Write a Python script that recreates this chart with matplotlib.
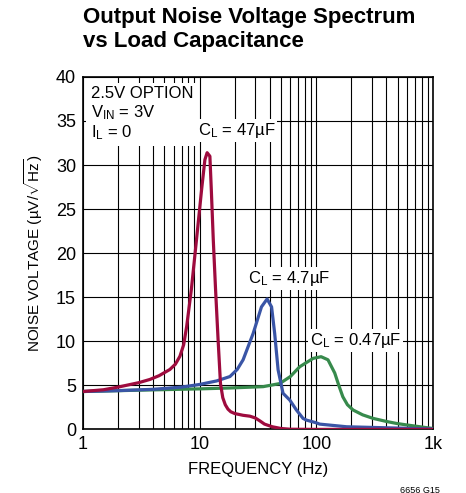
import matplotlib
matplotlib.use('Agg')
import matplotlib.pyplot as plt
from matplotlib.ticker import FixedLocator, NullFormatter

plt.rcParams['font.family'] = ['Liberation Sans', 'DejaVu Sans']
plt.rcParams['mathtext.fontset'] = 'custom'
plt.rcParams['mathtext.rm'] = 'Liberation Sans'
plt.rcParams['mathtext.it'] = 'Liberation Sans'

# Curves (frequency in Hz, noise in uV/rtHz)
f_47u = [1, 1.5, 2, 3, 3.75, 4.5, 5.56, 6.2, 6.78, 7.3, 7.75, 8.5, 9.4, 10.4,
         11.1, 11.6, 12.25, 12.6, 13.1, 13.7, 14.4, 15.1, 15.8, 16.6, 17.5,
         18.5, 20, 23.6, 27, 30, 33, 36, 42, 50, 60, 100, 1000]
v_47u = [4.3, 4.5, 4.8, 5.3, 5.67, 6.1, 6.8, 7.4, 8.3, 9.6, 11.7, 15.9, 21.5,
         27.2, 30.6, 31.4, 31.0, 27.2, 21.5, 15.9, 10.2, 5.2, 3.6, 2.8, 2.3,
         2.0, 1.8, 1.6, 1.5, 1.3, 0.95, 0.6, 0.3, 0.1, 0.02, 0.0, 0.0]

f_4u7 = [1, 2, 4, 7, 10, 14, 18.2, 21, 23.6, 28.8, 33.9, 37.9, 41.4, 44, 47.1,
         51.9, 59.3, 67.6, 77, 82.6, 100, 107, 182, 500, 1000]
v_4u7 = [4.3, 4.4, 4.55, 4.8, 5.1, 5.5, 6.0, 6.8, 7.9, 10.9, 13.9, 14.8, 13.9,
         10.9, 6.75, 4.1, 3.33, 2.2, 1.25, 1.05, 0.75, 0.6, 0.3, 0.15, 0.05]

f_0u47 = [1, 3, 10, 18.2, 35, 48.6, 60, 72, 85, 94, 110, 126, 144, 156, 169,
          185, 207, 250, 307, 400, 486, 600, 775, 1000]
v_0u47 = [4.3, 4.45, 4.6, 4.7, 4.85, 5.2, 6.0, 7.1, 7.7, 8.06, 8.25, 7.9, 6.4,
          5.0, 3.7, 2.8, 2.2, 1.65, 1.25, 0.9, 0.68, 0.5, 0.3, 0.1]

x_ticks = [1, 10, 100, 1000]
x_ticklabels = ['1', '10', '100', '1k']
y_ticks = [0, 5, 10, 15, 20, 25, 30, 35, 40]

RED = '#9E0B3E'
BLUE = '#3A55A6'
GREEN = '#378A4C'

fig = plt.figure(figsize=(4.66, 4.93), dpi=100)
ax = fig.add_axes([0.178, 0.129, 0.751, 0.715])

ax.set_xscale('log')
ax.set_xlim(1, 1000)
ax.set_ylim(0, 40)

minor = [m * d for d in (1, 10, 100) for m in range(2, 10)]
ax.xaxis.set_major_locator(FixedLocator(x_ticks))
ax.xaxis.set_minor_locator(FixedLocator(minor))
ax.xaxis.set_minor_formatter(NullFormatter())
ax.set_xticklabels(x_ticklabels)
ax.set_yticks(y_ticks)
ax.grid(True, which='both', color='black', lw=0.8)
ax.tick_params(which='both', length=0, labelsize=13, pad=5)
for s in ax.spines.values():
    s.set_linewidth(1.2)

ax.plot(f_0u47, v_0u47, color=GREEN, lw=2.3, zorder=3)
ax.plot(f_4u7, v_4u7, color=BLUE, lw=2.3, zorder=4)
ax.plot(f_47u, v_47u, color=RED, lw=2.3, zorder=5)

ax.text(0.022, 0.975, '2.5V OPTION\n$\\mathregular{V_{IN}}$ = 3V\n$\\mathregular{I_L}$ = 0',
        transform=ax.transAxes, ha='left', va='top', fontsize=12, linespacing=1.15,
        bbox=dict(facecolor='white', edgecolor='none', pad=3), zorder=6)

bb = dict(facecolor='white', edgecolor='none', pad=1.5)
ax.text(9.6, 33.9, '$\\mathregular{C_L}$ = 47µF', fontsize=12, ha='left',
        va='center', bbox=bb, zorder=6)
ax.text(26.0, 17.1, '$\\mathregular{C_L}$ = 4.7µF', fontsize=12, ha='left',
        va='center', bbox=bb, zorder=6)
ax.text(88, 10.1, '$\\mathregular{C_L}$ = 0.47µF', fontsize=12, ha='left',
        va='center', bbox=bb, zorder=6)

ax.set_xlabel('FREQUENCY (Hz)', fontsize=12, labelpad=6)
ax.set_ylabel('NOISE VOLTAGE (µV/$\\mathregular{\\sqrt{Hz}}$)', fontsize=11, labelpad=8)

fig.text(0.178, 0.985, 'Output Noise Voltage Spectrum\nvs Load Capacitance',
         fontsize=16, fontweight='bold', ha='left', va='top', linespacing=1.15)
fig.text(0.945, 0.006, '6656 G15', fontsize=6.5, ha='right', va='center')

fig.savefig('out.png', dpi=100)
